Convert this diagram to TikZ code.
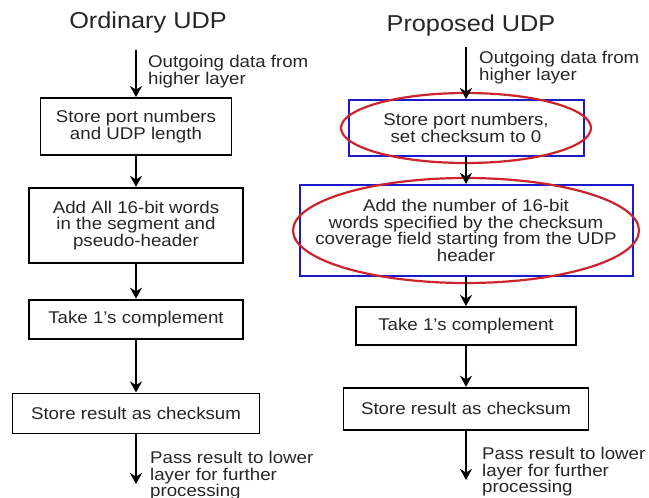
\documentclass[tikz,border=0pt]{standalone}
\usepackage{fontspec}
\setmainfont{Liberation Sans}[FakeStretch=1.1]
\usetikzlibrary{shapes.geometric, arrows.meta, positioning}
\definecolor{boxblue}{RGB}{25,25,205}
\definecolor{ringred}{RGB}{205,35,45}
\tikzstyle{process} = [rectangle, draw=black, line width=1.8pt, text=black!85, align=center, inner sep=0pt]
\tikzstyle{newprocess} = [process, draw=boxblue, line width=2pt]
\tikzstyle{ringmark} = [ellipse, draw=ringred, line width=2.2pt, inner sep=0pt]
\tikzstyle{arrow} = [line width=2pt, -{Stealth[length=11pt, width=12pt]}]
\tikzstyle{note} = [anchor=north west, align=left, inner sep=0pt, text=black!85]
\tikzstyle{heading} = [font=\fontsize{23}{25}\selectfont, text=black!85]

\begin{document}
\begin{tikzpicture}[x=1pt, y=-1pt, font=\fontsize{17}{16.5}\selectfont]
\useasboundingbox (0,0) rectangle (649,498);

% ordinary UDP
\node (ordtitle) [heading] at (148,23) {Ordinary UDP};
\coordinate (ordin) at (136,50);
\node (ord1) [process, minimum width=191pt, minimum height=57pt] at (136,126.5) {Store port numbers\\and UDP length};
\node (ord2) [process, below=31pt of ord1, minimum width=214pt, minimum height=75pt] {Add All 16-bit words\\in the segment and\\pseudo-header};
\node (ord3) [process, below=35pt of ord2, minimum width=214pt, minimum height=39pt] {Take 1's complement};
\node (ord4) [process, below=53pt of ord3, minimum width=247pt, minimum height=40pt] {Store result as checksum};
\coordinate (ordout) at (136,484);

\node (ordin_note) [note] at (148,55) {Outgoing data from\\higher layer};
\node (ordout_note) [note] at (150,451) {Pass result to lower\\layer for further\\processing};

\draw [arrow] (ordin) -- (ord1);
\draw [arrow] (ord1) -- (ord2);
\draw [arrow] (ord2) -- (ord3);
\draw [arrow] (ord3) -- (ord4);
\draw [arrow] (ord4) -- (ordout);

% proposed UDP
\node (proptitle) [heading] at (471,26) {Proposed UDP};
\coordinate (propin) at (466,47);
\node (prop1) [newprocess, minimum width=235pt, minimum height=56pt] at (466,128) {Store port numbers,\\set checksum to 0};
\node (prop2) [newprocess, below=27pt of prop1, minimum width=333pt, minimum height=91pt] {Add the number of 16-bit\\words specified by the checksum\\coverage field starting from the UDP\\header};
\node (prop3) [process, below=29pt of prop2, minimum width=220pt, minimum height=38pt] {Take 1's complement};
\node (prop4) [process, below=41pt of prop3, minimum width=245pt, minimum height=42pt] {Store result as checksum};
\coordinate (propout) at (466,480);

\node (propin_note) [note] at (479,51) {Outgoing data from\\higher layer};
\node (propout_note) [note] at (482,447) {Pass result to lower\\layer for further\\processing};

\node (ring1) [ringmark, minimum width=250pt, minimum height=70pt] at (prop1) {};
\node (ring2) [ringmark, minimum width=346pt, minimum height=105pt] at (prop2) {};

\draw [arrow] (propin) -- (prop1);
\draw [arrow] (prop1) -- (prop2);
\draw [arrow] (prop2) -- (prop3);
\draw [arrow] (prop3) -- (prop4);
\draw [arrow] (prop4) -- (propout);

\end{tikzpicture}
\end{document}
